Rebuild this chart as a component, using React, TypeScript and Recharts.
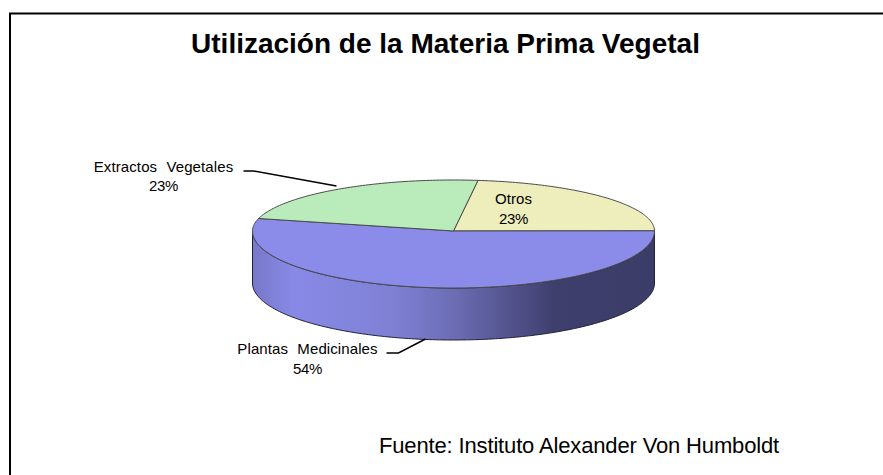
import React from 'react';
import { PieChart, Pie, Cell } from 'recharts';

const categories = ['Otros', 'Plantas Medicinales', 'Extractos Vegetales'];
const values = [23, 54, 23];
const sliceColors = ['#EEEDBC', '#8B8BEA', '#BAEBBA'];
const titleText = 'Utilización de la Materia Prima Vegetal';
const sourceText = 'Fuente: Instituto Alexander Von Humboldt';

const tableData = categories.map((name, i) => ({ name, value: values[i] }));

const SQUASH_BACK = 51 / 201;
const SQUASH_FRONT = 57 / 201;
const DEPTH = 52;
const FONT = '"Liberation Sans", Arial, sans-serif';

const pt = (cx: number, cy: number, r: number, deg: number) => {
  const a = (deg * Math.PI) / 180;
  const s = Math.sin(a);
  return [cx + r * Math.cos(a), cy - r * (s > 0 ? SQUASH_BACK : SQUASH_FRONT) * s];
};

const outline = (cx: number, cy: number, r: number, from: number, to: number) => {
  const n = Math.ceil(Math.abs(to - from));
  const out: string[] = [];
  for (let i = 0; i <= n; i++) {
    const [x, y] = pt(cx, cy, r, from + ((to - from) * i) / n);
    out.push(`${x.toFixed(2)},${y.toFixed(2)}`);
  }
  return out;
};

const EllipseSector = (props: any) => {
  const { cx, cy, outerRadius: r, startAngle, endAngle, fill, index } = props;
  const top = `M${cx},${cy} L${outline(cx, cy, r, startAngle, endAngle).join(' L')} Z`;
  let wall: string | null = null;
  if (index === 1) {
    const edge = outline(cx, cy, r, 0, -180);
    const lower = outline(cx, cy + DEPTH, r, -180, 0);
    wall = `M${edge.join(' L')} L${lower.join(' L')} Z`;
  }
  return (
    <g>
      {wall && <path d={wall} fill="url(#wallGrad)" stroke="#22223a" strokeWidth={1} />}
      <path d={top} fill={fill} stroke="#4a4a4a" strokeWidth={1} strokeLinejoin="round" />
    </g>
  );
};

const labelLayout: any[] = [
  { dx: 60, dy: -27, step: 20, line: null },
  { dx: -146, dy: 123, step: 20, line: 'M-67,122 H-55 L-28,108' },
  { dx: -290, dy: -59, step: 19, line: 'M-210,-60 H-200 L-117,-45' },
];

const renderLabel = (props: any) => {
  const { cx, cy, index, percent, name } = props;
  const l = labelLayout[index];
  return (
    <g key={name} fontFamily={FONT} fontSize={15} fill="#000" textAnchor="middle">
      {l.line && (
        <path
          d={l.line}
          transform={`translate(${cx},${cy})`}
          fill="none"
          stroke="#000"
          strokeWidth={1.5}
        />
      )}
      <text x={cx + l.dx} y={cy + l.dy} wordSpacing={5} letterSpacing={0.1}>{name}</text>
      <text x={cx + l.dx} y={cy + l.dy + l.step} letterSpacing={-0.3}>{`${Math.round(percent * 100)}%`}</text>
    </g>
  );
};

export default function App() {
  return (
    <div style={{ position: 'absolute', left: 0, top: 0, width: 883, height: 475, background: '#fff' }}>
      <PieChart width={883} height={475} margin={{ top: 0, right: 0, bottom: 0, left: 0 }}>
        <defs>
          <linearGradient id="wallGrad" x1="0" y1="0" x2="1" y2="0">
            <stop offset="0" stopColor="#7778C8" />
            <stop offset="0.1" stopColor="#8889E6" />
            <stop offset="0.35" stopColor="#7F80D4" />
            <stop offset="0.5" stopColor="#6C6DB4" />
            <stop offset="0.75" stopColor="#3F3F6E" />
            <stop offset="1" stopColor="#3C3C68" />
          </linearGradient>
        </defs>
        <path d="M10,475 V13.5 H883" fill="none" stroke="#000" strokeWidth={2} />
        <text x={445.5} y={53} textAnchor="middle" fontFamily={FONT} fontWeight="bold" fontSize={28} fill="#000">
          {titleText}
        </text>
        <text x={379} y={453} fontFamily={FONT} fontSize={22} letterSpacing={-0.15} fill="#000">
          {sourceText}
        </text>
        <Pie
          data={tableData}
          dataKey="value"
          nameKey="name"
          cx={453.5}
          cy={231}
          innerRadius={0}
          outerRadius={201}
          startAngle={83}
          endAngle={-277}
          paddingAngle={0}
          stroke="none"
          shape={EllipseSector}
          label={renderLabel}
          labelLine={false}
          isAnimationActive={false}
        >
          {tableData.map((d, i) => (
            <Cell key={d.name} fill={sliceColors[i]} />
          ))}
        </Pie>
      </PieChart>
    </div>
  );
}
